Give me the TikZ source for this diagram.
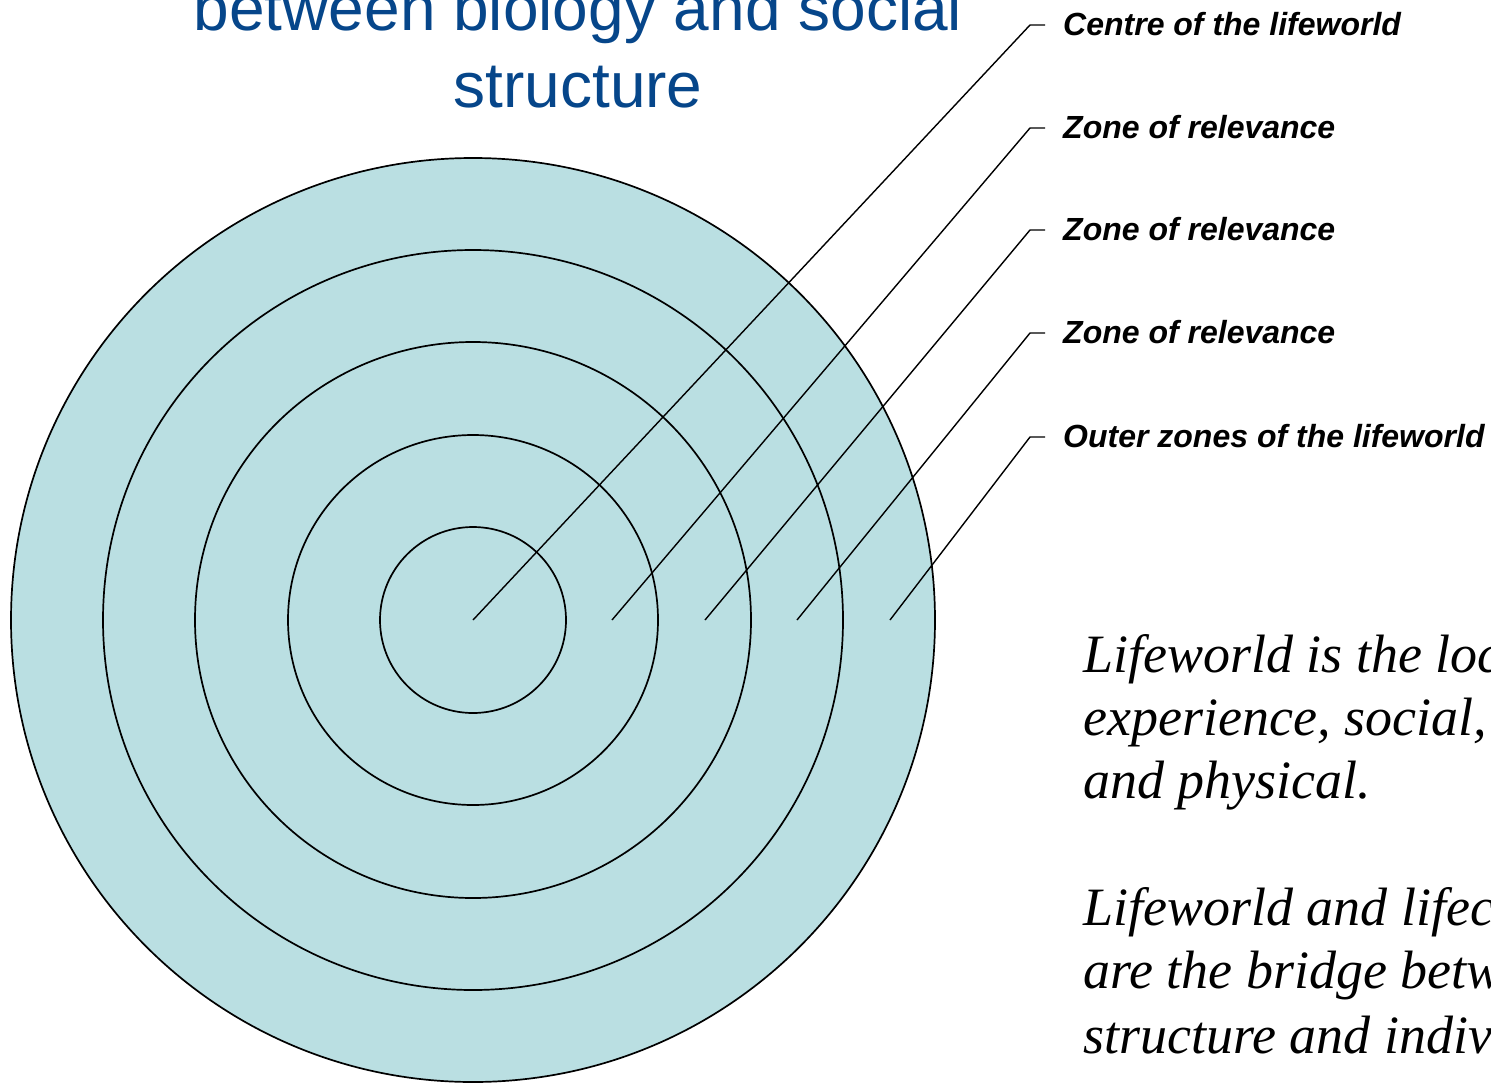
\documentclass[tikz,border=0pt]{standalone}
\usepackage{fontspec}
\setmainfont{Liberation Serif}
\setsansfont{Liberation Sans}
\definecolor{ringfill}{RGB}{186,223,226}
\definecolor{titleblue}{RGB}{6,70,138}
\begin{document}
\begin{tikzpicture}[x=1pt,y=-1pt,
  ring/.style={draw=black,line width=1.7pt},
  leader/.style={draw=black,line width=1.4pt},
  lbl/.style={anchor=base west,inner sep=0pt,font=\sffamily\bfseries\itshape\fontsize{32}{38}\selectfont},
  ttl/.style={anchor=base,inner sep=0pt,text=titleblue,font=\sffamily\fontsize{64}{77}\selectfont},
  body/.style={anchor=base west,inner sep=0pt,font=\rmfamily\itshape\fontsize{54}{63}\selectfont}]
\useasboundingbox (0,0) rectangle (1491,1082);
\clip (0,0) rectangle (1491,1082);
% rings
\fill[ringfill] (473,620) circle (462);
\foreach \r in {462,370,278,185,93} \draw[ring] (473,620) circle (\r);
% title
\node[ttl] (t1) at (578,30) {between biology and social};
\node[ttl] (t2) at (578,107) {structure};
% anchor points
\coordinate (p1) at (473,620);
\coordinate (p2) at (612,620);
\coordinate (p3) at (705,620);
\coordinate (p4) at (797,620);
\coordinate (p5) at (890,620);
\coordinate (k1) at (1030,25);
\coordinate (k2) at (1030,128);
\coordinate (k3) at (1030,230);
\coordinate (k4) at (1030,333);
\coordinate (k5) at (1030,437);
% labels
\node[lbl] (l1) at (1063,35) {Centre of the lifeworld};
\node[lbl] (l2) at (1063,138) {Zone of relevance};
\node[lbl] (l3) at (1063,240) {Zone of relevance};
\node[lbl] (l4) at (1063,343) {Zone of relevance};
\node[lbl] (l5) at (1063,447) {Outer zones of the lifeworld};
% leaders
\foreach \i in {1,...,5} \draw[leader] (p\i) -- (k\i) -- ++(15,0);
% body text
\node[body] (b1) at (1083,672) {Lifeworld is the locus of};
\node[body] (b2) at (1083,735) {experience, social, psychological};
\node[body] (b3) at (1083,798) {and physical.};
\node[body] (b4) at (1083,925) {Lifeworld and lifecourse};
\node[body] (b5) at (1083,988) {are the bridge between};
\node[body] (b6) at (1083,1053) {structure and individual};
\end{tikzpicture}
\end{document}
